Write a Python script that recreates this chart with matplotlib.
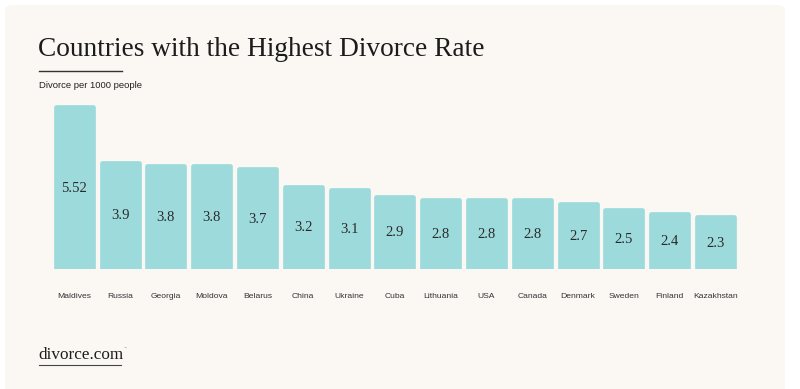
import matplotlib
matplotlib.use("Agg")
import matplotlib.pyplot as plt
from matplotlib.patches import FancyBboxPatch
from matplotlib.lines import Line2D

countries = ["Maldives", "Russia", "Georgia", "Moldova", "Belarus", "China", "Ukraine",
             "Cuba", "Lithuania", "USA", "Canada", "Denmark", "Sweden", "Finland", "Kazakhstan"]
rates = [5.52, 3.9, 3.8, 3.8, 3.7, 3.2, 3.1, 2.9, 2.8, 2.8, 2.8, 2.7, 2.5, 2.4, 2.3]
value_labels = ["5.52", "3.9", "3.8", "3.8", "3.7", "3.2", "3.1", "2.9", "2.8", "2.8",
                "2.8", "2.7", "2.5", "2.4", "2.3"]

W, H = 800, 389
fig = plt.figure(figsize=(W / 100, H / 100), dpi=100)
fig.patch.set_facecolor("white")

# card background
card = FancyBboxPatch((5 / W, -20 / H), 780 / W, (H - 5 + 20) / H,
                      boxstyle="round,pad=0,rounding_size=0.012",
                      transform=fig.transFigure, facecolor="#FBF8F4",
                      edgecolor="none", zorder=-10)
fig.patches.append(card)

base = 0.79
ax = fig.add_axes([51.4 / W, (H - 269) / H, 687 / W, 180 / H])
ax.set_zorder(5)
ax.set_facecolor("none")
ax.set_xlim(-0.5, len(countries) - 0.5)
ax.set_ylim(base, 6.05)
bar_color = "#9DDADC"
bars = ax.bar(range(len(countries)), rates, width=0.81, color=bar_color,
              edgecolor=bar_color, linewidth=3.4, joinstyle="round", zorder=2)
for i, (v, lab) in enumerate(zip(rates, value_labels)):
    ax.text(i, (base + v) / 2, lab, ha="center", va="center",
            fontfamily="Liberation Serif", fontsize=10.5, color="#2a2a2a", zorder=3)
for i, c in enumerate(countries):
    ax.text(i, base - (296 - 269) / 34.2, c, ha="center", va="center",
            fontfamily="Liberation Sans", fontsize=6.1, color="#333333", clip_on=False)
for s in ax.spines.values():
    s.set_visible(False)
ax.set_xticks([])
ax.set_yticks([])

# title
fig.text(38 / W, 1 - 50 / H, "Countries with the Highest Divorce Rate",
         fontfamily="Liberation Serif", fontsize=19.7, color="#1c1c1c",
         ha="left", va="center")
fig.add_artist(Line2D([39 / W, 122 / W], [1 - 70.7 / H, 1 - 70.7 / H],
                      transform=fig.transFigure, color="#333333", linewidth=1.0))
fig.text(39 / W, 1 - 85 / H, "Divorce per 1000 people",
         fontfamily="Liberation Sans", fontsize=6.8, color="#222222",
         ha="left", va="center")

# logo
fig.text(38 / W, 1 - 355 / H, "divorce.com", fontfamily="Liberation Serif",
         fontsize=12.3, color="#1c1c1c", ha="left", va="center")
fig.text(123 / W, 1 - 347 / H, "™", fontfamily="DejaVu Sans",
         fontsize=2.5, color="#555555", ha="left", va="center")
fig.add_artist(Line2D([39 / W, 121 / W], [1 - 365 / H, 1 - 365 / H],
                      transform=fig.transFigure, color="#444444", linewidth=0.8))

fig.savefig("out.png", dpi=100, facecolor=fig.get_facecolor())
